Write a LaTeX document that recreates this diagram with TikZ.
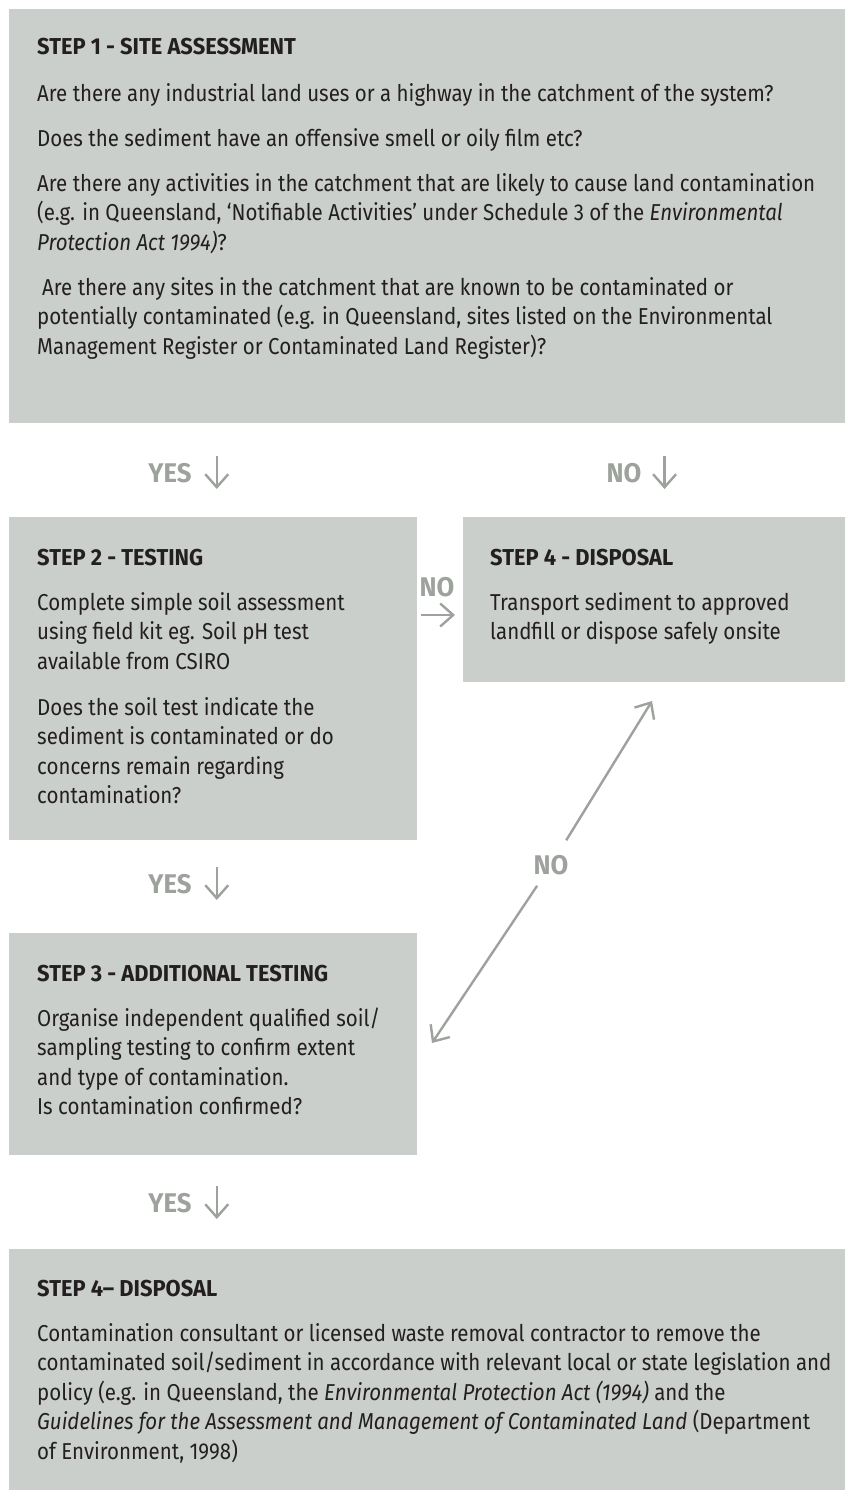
\documentclass[tikz,border=0pt]{standalone}
\usepackage{fontspec}
\setmainfont[FakeStretch=0.89]{Fira Sans}
\newfontfamily\headfont[FakeStretch=0.95]{Fira Sans}
\usetikzlibrary{arrows.meta,calc}
\definecolor{boxgray}{HTML}{CBCFCB}
\definecolor{labgray}{HTML}{9DA29C}
\definecolor{ink}{HTML}{231F20}
\newcommand{\firstline}{\rule{0pt}{22pt}}
\tikzset{
  stepbox/.style={fill=boxgray, draw=none, inner sep=0pt, outer sep=0pt, anchor=north west},
  heading/.style={anchor=base west, inner sep=0pt, text=ink, font=\headfont\bfseries\fontsize{23}{27}\selectfont},
  bodytext/.style={anchor=north west, inner sep=0pt, align=left, text=ink, font=\fontsize{23}{29.5}\selectfont},
  answer/.style={inner sep=0pt, text=labgray, font=\headfont\bfseries\fontsize{27}{30}\selectfont},
  flow/.style={draw=labgray, line width=2.4pt, -{Straight Barb[length=13pt,width=23pt,line width=2.4pt]}}
}
\begin{document}
\begin{tikzpicture}[x=1pt,y=-1pt]
\useasboundingbox (0,0) rectangle (845,1490);
\fill[white] (0,0) rectangle (845,1490);

% step boxes
\node[stepbox, minimum width=836pt, minimum height=414pt] (s1) at (9,9) {};
\node[stepbox, minimum width=408pt, minimum height=323pt] (s2) at (9,517) {};
\node[stepbox, minimum width=382pt, minimum height=165pt] (s4a) at (463,517) {};
\node[stepbox, minimum width=408pt, minimum height=222pt] (s3) at (9,933) {};
\node[stepbox, minimum width=836pt, minimum height=241pt] (s4b) at (9,1249) {};

% step 1
\node[heading] (h1) at (37,55) {STEP 1 - SITE ASSESSMENT};
\node[bodytext] (t1) at (37,79) {\firstline Are there any industrial land uses or a highway in the catchment of the system?\\[15.5pt]
Does the sediment have an offensive smell or oily film etc?\\[15.5pt]
Are there any activities in the catchment that are likely to cause land contamination\\
(e.g. in Queensland, ‘Notifiable Activities’ under Schedule 3 of the \textit{Environmental}\\
\textit{Protection Act 1994)}?\\[15.5pt]
\hspace{5pt}Are there any sites in the catchment that are known to be contaminated or\\
potentially contaminated (e.g. in Queensland, sites listed on the Environmental\\
Management Register or Contaminated Land Register)?};

% step 2
\node[heading] (h2) at (37,565) {STEP 2 - TESTING};
\node[bodytext] (t2) at (37,588) {\firstline Complete simple soil assessment\\
using field kit eg. Soil pH test\\
available from CSIRO\\[16.5pt]
Does the soil test indicate the\\
sediment is contaminated or do\\
concerns remain regarding\\
contamination?};

% step 4, right
\node[heading] (h4a) at (490,565) {STEP 4 - DISPOSAL};
\node[bodytext] (t4a) at (490,588) {\firstline Transport sediment to approved\\
landfill or dispose safely onsite};

% step 3
\node[heading] (h3) at (37,981) {STEP 3 - ADDITIONAL TESTING};
\node[bodytext] (t3) at (37,1004) {\firstline Organise independent qualified soil/\\
sampling testing to confirm extent\\
and type of contamination.\\
Is contamination confirmed?};

% step 4, bottom
\node[heading] (h4b) at (37,1296) {STEP 4– DISPOSAL};
\node[bodytext] (t4b) at (37,1319) {\firstline Contamination consultant or licensed waste removal contractor to remove the\\
contaminated soil/sediment in accordance with relevant local or state legislation and\\
policy (e.g. in Queensland, the \textit{Environmental Protection Act (1994)} and the\\
\textit{Guidelines for the Assessment and Management of Contaminated Land} (Department\\
of Environment, 1998)};

% answers
\node[answer] (yes1) at (170,473) {YES};
\node[answer] (no1) at (624,473) {NO};
\node[answer] (no2) at (437,587) {NO};
\node[answer] (yes2) at (170,884) {YES};
\node[answer] (no3) at (551,865) {NO};
\node[answer] (yes3) at (170,1203) {YES};

\coordinate (t4top) at (652,701);
\coordinate (t3side) at (432,1043);

% connectors
\draw[flow] ($(yes1.east)+(25,-17)$) -- ++(0,33);
\draw[flow] ($(no1.east)+(23,-17)$) -- ++(0,33);
\draw[flow] ($(s2.north east)+(4,98)$) -- ($(s4a.north west)+(-8,98)$);
\draw[flow] ($(yes2.east)+(25,-17)$) -- ++(0,33);
\draw[flow] ($(yes3.east)+(25,-17)$) -- ++(0,33);
\draw[flow, shorten <=29pt] (no3.center) -- (t4top);
\draw[flow, shorten <=25pt] (no3.center) -- (t3side);
\end{tikzpicture}
\end{document}
